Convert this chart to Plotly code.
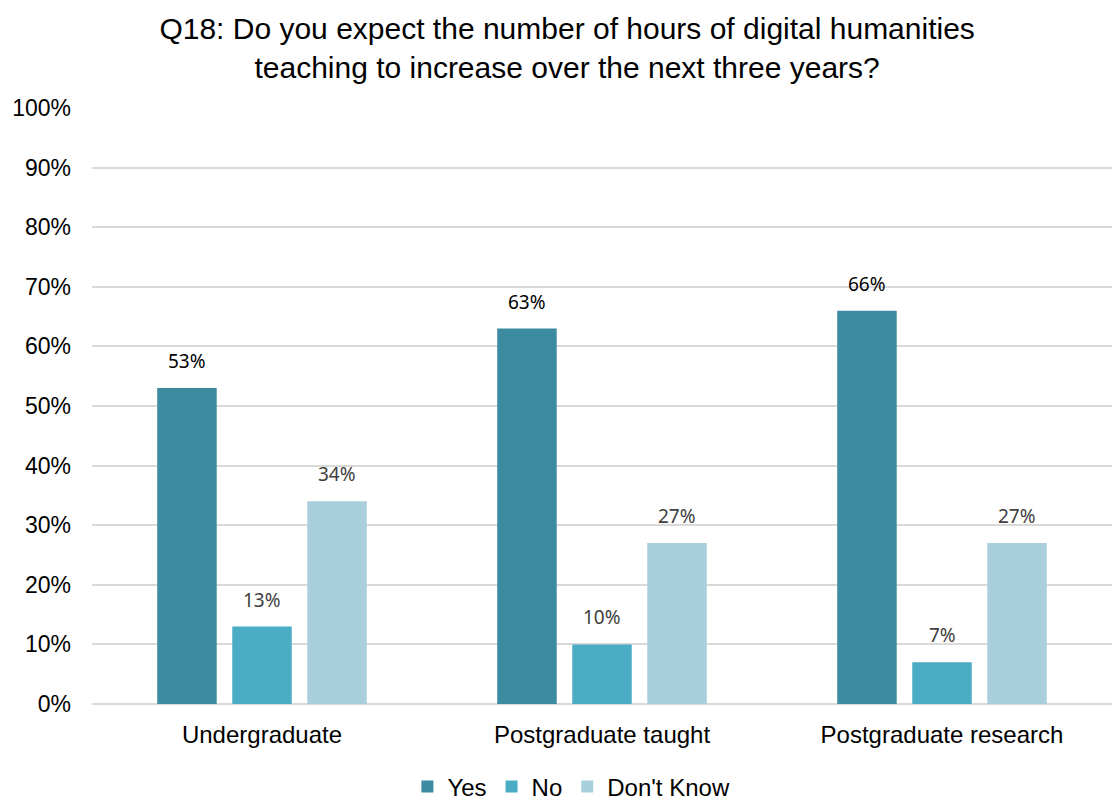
import plotly.graph_objects as go

categories = ["Undergraduate", "Postgraduate taught", "Postgraduate research"]
yes_vals = [53, 63, 66]
no_vals = [13, 10, 7]
dont_know_vals = [34, 27, 27]

series = [
    ("Yes", yes_vals, "#3C8BA1", "#000000"),
    ("No", no_vals, "#4BACC6", "#404040"),
    ("Don't Know", dont_know_vals, "#A9CFDC", "#404040"),
]

# horizontal pixel offset of each series' bar centre within its group
group_shift = [-75, 0, 75]

fig = go.Figure()
for (name, vals, color, txtcolor), shift in zip(series, group_shift):
    fig.add_trace(go.Bar(
        name=name,
        x=categories,
        y=vals,
        marker=dict(color=color, line=dict(width=0)),
    ))
    for cat, v in zip(categories, vals):
        fig.add_annotation(
            x=cat, y=v, xref="x", yref="y",
            text=f"{v}%", showarrow=False,
            xanchor="center", yanchor="bottom",
            xshift=shift, yshift=12,
            font=dict(family="Noto Sans", size=19, color=txtcolor),
        )

fig.update_layout(
    width=1112,
    height=803,
    margin=dict(l=92, r=0, t=108, b=99, autoexpand=False),
    paper_bgcolor="white",
    plot_bgcolor="white",
    barmode="group",
    bargap=0.338,
    bargroupgap=0.207,
    title=dict(
        text="Q18: Do you expect the number of hours of digital humanities<br>teaching to increase over the next three years?",
        x=0.51, xanchor="center", y=0.951, yanchor="middle",
        font=dict(family="Liberation Sans", size=30, color="#000000"),
    ),
    legend=dict(
        orientation="h", x=0.47, xanchor="center",
        yref="container", y=0.02, yanchor="middle",
        font=dict(family="Liberation Sans", size=24, color="#000000"),
        itemwidth=30, traceorder="normal",
    ),
)

fig.update_yaxes(
    range=[0, 100],
    dtick=10,
    ticksuffix="%",
    showgrid=True,
    gridcolor="#D9D9D9",
    gridwidth=2,
    zeroline=True,
    zerolinecolor="#D9D9D9",
    zerolinewidth=2,
    showline=False,
    tickfont=dict(family="Liberation Sans", size=23, color="#000000"),
    ticklabelstandoff=20,
)
fig.update_xaxes(
    showline=False,
    showgrid=False,
    tickfont=dict(family="Liberation Sans", size=24, color="#000000"),
    ticklabelstandoff=14,
)

fig.write_html("out.html")
